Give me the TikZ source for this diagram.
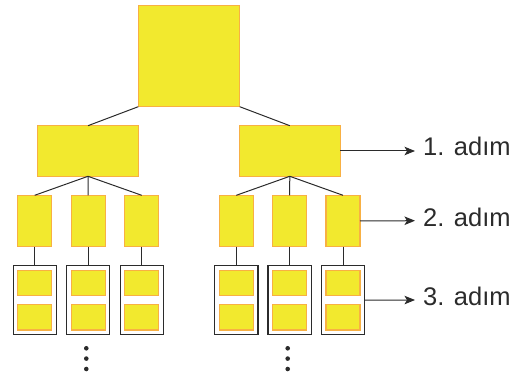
\documentclass[tikz,border=0pt]{standalone}
\usepackage{fontspec}
\setmainfont{Liberation Sans}
\usetikzlibrary{arrows.meta}
\definecolor{boxfill}{HTML}{F2E92E}
\definecolor{boxedge}{HTML}{F8B043}
\definecolor{ink}{HTML}{2B2B2B}
\tikzset{
  ybox/.style={rectangle, fill=boxfill, draw=boxedge, line width=1.3pt, inner sep=0pt, outer sep=0pt},
  frame/.style={rectangle, draw=ink, line width=1.1pt, inner sep=0pt, outer sep=0pt, minimum width=43.3pt, minimum height=69pt},
  link/.style={draw=ink, line width=1pt},
  stepline/.style={draw=ink, line width=1pt, -{Stealth[length=10.5pt,width=8.5pt,inset=2.5pt]}},
  steplabel/.style={anchor=base west, inner sep=0pt, font=\fontsize{25.5}{29}\selectfont, text=ink},
  vdot/.style={circle, fill=ink, inner sep=0pt, minimum size=4.6pt}
}
\begin{document}
\begin{tikzpicture}[x=1pt, y=-1pt]
  \useasboundingbox (0,0) rectangle (523,374);

  % root
  \node[ybox, minimum width=101.4pt, minimum height=101.4pt] (root) at (189,56) {};

  % first level
  \node[ybox, minimum width=101.4pt, minimum height=50.6pt] (a) at (88,151) {};
  \node[ybox, minimum width=101pt, minimum height=50.6pt] (b) at (289.8,151) {};
  \draw[link] (root.south west) -- (a.north);
  \draw[link] (root.south east) -- (b.north);

  % second and third levels
  \foreach \p/\x/\q in {a1/34.7/a, a2/88.2/a, a3/141.7/a, b1/236.3/b, b2/289.6/b, b3/343/b} {
    \node[ybox, minimum width=34pt, minimum height=51.4pt] (\p) at (\x,221) {};
    \draw[link] (\q.south) -- (\p.north);
    \node[frame] (\p f) at (\x,300.2) {};
    \node[ybox, minimum width=34pt, minimum height=25.4pt] (\p u) at (\x,283) {};
    \node[ybox, minimum width=34pt, minimum height=25.4pt] (\p l) at (\x,317.3) {};
    \draw[link] (\p.south) -- (\p f.north);
  }

  % continuation dots
  \foreach \x/\n in {86.3/l, 287.7/r} {
    \node[vdot] (\n1) at (\x,348.3) {};
    \node[vdot] (\n2) at (\x,358.6) {};
    \node[vdot] (\n3) at (\x,369) {};
  }

  % step labels
  \coordinate (s1) at (415,151);
  \coordinate (s2) at (415,220.7);
  \coordinate (s3) at (415,300);
  \draw[stepline] (b.east) -- (s1);
  \draw[stepline] (b3.east) -- (s2);
  \draw[stepline] (b3f.east) -- (s3);
  \node[steplabel] (t1) at (423,156) {1. adım};
  \node[steplabel] (t2) at (423,226.7) {2. adım};
  \node[steplabel] (t3) at (423,305.5) {3. adım};
\end{tikzpicture}
\end{document}
